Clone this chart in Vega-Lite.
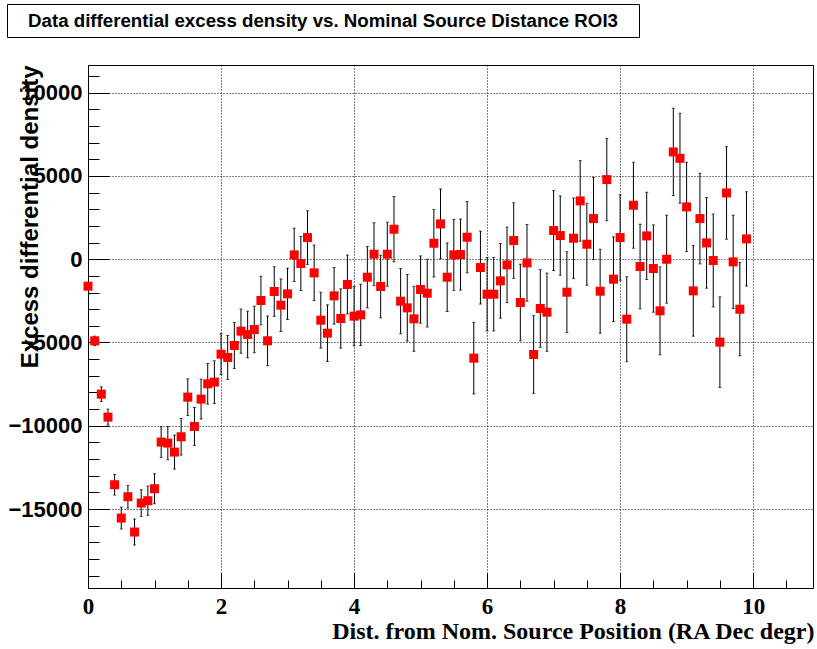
{
  "$schema": "https://vega.github.io/schema/vega-lite/v6.json",
  "background": "white",
  "padding": {"left": 6, "top": 3, "right": 2, "bottom": 2},
  "config": {"view": {"stroke": null}},
  "bounds": "flush",
  "spacing": 28,
  "datasets": {
    "ttl": [{"t": "Data differential excess density vs. Nominal Source Distance ROI3"}],
    "pts": [
      {"x": 0.0, "v": -1620, "e": 200},
      {"x": 0.1, "v": -4900, "e": 280},
      {"x": 0.2, "v": -8100, "e": 440},
      {"x": 0.3, "v": -9480, "e": 480},
      {"x": 0.4, "v": -13540, "e": 620},
      {"x": 0.5, "v": -15540, "e": 660},
      {"x": 0.6, "v": -14260, "e": 680},
      {"x": 0.7, "v": -16380, "e": 780},
      {"x": 0.8, "v": -14640, "e": 800},
      {"x": 0.9, "v": -14500, "e": 880},
      {"x": 1.0, "v": -13780, "e": 900},
      {"x": 1.1, "v": -10980, "e": 920},
      {"x": 1.2, "v": -11040, "e": 1000},
      {"x": 1.3, "v": -11580, "e": 1020},
      {"x": 1.4, "v": -10660, "e": 1100},
      {"x": 1.5, "v": -8280, "e": 1100},
      {"x": 1.6, "v": -10040, "e": 1140},
      {"x": 1.7, "v": -8400, "e": 1200},
      {"x": 1.8, "v": -7480, "e": 1220},
      {"x": 1.9, "v": -7380, "e": 1280},
      {"x": 2.0, "v": -5700, "e": 1230},
      {"x": 2.1, "v": -5900, "e": 1320},
      {"x": 2.2, "v": -5180, "e": 1380},
      {"x": 2.3, "v": -4320, "e": 1330},
      {"x": 2.4, "v": -4520, "e": 1400},
      {"x": 2.5, "v": -4220, "e": 1400},
      {"x": 2.6, "v": -2480, "e": 1460},
      {"x": 2.7, "v": -4900, "e": 1490},
      {"x": 2.8, "v": -1940, "e": 1490},
      {"x": 2.9, "v": -2760, "e": 1580},
      {"x": 3.0, "v": -2080, "e": 1540},
      {"x": 3.1, "v": 260, "e": 1600},
      {"x": 3.2, "v": -260, "e": 1620},
      {"x": 3.3, "v": 1300, "e": 1610},
      {"x": 3.4, "v": -820, "e": 1670},
      {"x": 3.5, "v": -3660, "e": 1680},
      {"x": 3.6, "v": -4440, "e": 1700},
      {"x": 3.7, "v": -2200, "e": 1700},
      {"x": 3.8, "v": -3560, "e": 1780},
      {"x": 3.9, "v": -1520, "e": 1770},
      {"x": 4.0, "v": -3420, "e": 1780},
      {"x": 4.1, "v": -3340, "e": 1840},
      {"x": 4.2, "v": -1080, "e": 1840},
      {"x": 4.3, "v": 300, "e": 1890},
      {"x": 4.4, "v": -1640, "e": 1880},
      {"x": 4.5, "v": 300, "e": 1920},
      {"x": 4.6, "v": 1800, "e": 1960},
      {"x": 4.7, "v": -2520, "e": 1960},
      {"x": 4.8, "v": -2920, "e": 2000},
      {"x": 4.9, "v": -3580, "e": 1950},
      {"x": 5.0, "v": -1820, "e": 2020},
      {"x": 5.1, "v": -2040, "e": 2030},
      {"x": 5.2, "v": 960, "e": 2030},
      {"x": 5.3, "v": 2120, "e": 2100},
      {"x": 5.4, "v": -1080, "e": 2060},
      {"x": 5.5, "v": 260, "e": 2130},
      {"x": 5.6, "v": 280, "e": 2130},
      {"x": 5.7, "v": 1320, "e": 2140},
      {"x": 5.8, "v": -5940, "e": 2150},
      {"x": 5.9, "v": -500, "e": 2190},
      {"x": 6.0, "v": -2100, "e": 2210},
      {"x": 6.1, "v": -2100, "e": 2210},
      {"x": 6.2, "v": -1300, "e": 2240},
      {"x": 6.3, "v": -340, "e": 2270},
      {"x": 6.4, "v": 1120, "e": 2270},
      {"x": 6.5, "v": -2600, "e": 2300},
      {"x": 6.6, "v": -220, "e": 2300},
      {"x": 6.7, "v": -5720, "e": 2330},
      {"x": 6.8, "v": -2960, "e": 2330},
      {"x": 6.9, "v": -3180, "e": 2350},
      {"x": 7.0, "v": 1720, "e": 2400},
      {"x": 7.1, "v": 1420, "e": 2380},
      {"x": 7.2, "v": -1980, "e": 2430},
      {"x": 7.3, "v": 1260, "e": 2410},
      {"x": 7.4, "v": 3500, "e": 2420},
      {"x": 7.5, "v": 900, "e": 2460},
      {"x": 7.6, "v": 2440, "e": 2470},
      {"x": 7.7, "v": -1920, "e": 2520},
      {"x": 7.8, "v": 4780, "e": 2470},
      {"x": 7.9, "v": -1200, "e": 2540},
      {"x": 8.0, "v": 1300, "e": 2570},
      {"x": 8.1, "v": -3600, "e": 2550},
      {"x": 8.2, "v": 3240, "e": 2580},
      {"x": 8.3, "v": -440, "e": 2540},
      {"x": 8.4, "v": 1400, "e": 2620},
      {"x": 8.5, "v": -560, "e": 2620},
      {"x": 8.6, "v": -3100, "e": 2640},
      {"x": 8.7, "v": 0, "e": 2640},
      {"x": 8.8, "v": 6440, "e": 2620},
      {"x": 8.9, "v": 6060, "e": 2700},
      {"x": 9.0, "v": 3140, "e": 2680},
      {"x": 9.1, "v": -1900, "e": 2720},
      {"x": 9.2, "v": 2440, "e": 2720},
      {"x": 9.3, "v": 980, "e": 2720},
      {"x": 9.4, "v": -80, "e": 2790},
      {"x": 9.5, "v": -4980, "e": 2720},
      {"x": 9.6, "v": 3980, "e": 2780},
      {"x": 9.7, "v": -160, "e": 2800},
      {"x": 9.8, "v": -3000, "e": 2800},
      {"x": 9.9, "v": 1220, "e": 2830}
    ]
  },
  "vconcat": [
    {
      "width": 632,
      "height": 33,
      "data": {"name": "ttl"},
      "view": {"stroke": "black", "strokeWidth": 1},
      "mark": {"type": "text", "font": "Liberation Sans", "fontWeight": "bold", "fontSize": 18.7, "color": "black"},
      "encoding": {"text": {"field": "t", "type": "nominal"}}
    },
    {
      "bounds": "flush",
      "spacing": 0,
      "hconcat": [
        {
          "width": 81,
          "height": 523,
          "data": {"name": "ttl"},
          "view": {"stroke": null},
          "mark": {"type": "point", "opacity": 0}
        },
        {
          "width": 725,
          "height": 523,
          "data": {"name": "pts"},
          "view": {"stroke": "black", "strokeWidth": 1},
          "resolve": {"axis": {"x": "independent", "y": "independent"}},
          "layer": [
            {
              "mark": {"type": "errorbar", "ticks": {"size": 3, "color": "black"}, "rule": {"color": "black", "strokeWidth": 1}},
              "encoding": {
                "x": {"field": "x", "type": "quantitative", "scale": {"domain": [0, 10.9], "nice": false, "zero": false}, "axis": null},
                "y": {"field": "v", "type": "quantitative", "scale": {"domain": [-19740, 11660], "nice": false, "zero": false}, "axis": null},
                "yError": {"field": "e"}
              }
            },
            {
              "mark": {"type": "square", "filled": true, "color": "#ff0000", "size": 81, "opacity": 1},
              "encoding": {
                "x": {"field": "x", "type": "quantitative", "scale": {"domain": [0, 10.9], "nice": false, "zero": false},
                  "axis": {"orient": "bottom", "values": [0, 2, 4, 6, 8, 10], "format": "d", "grid": true, "gridDash": [1, 2], "gridColor": "black", "gridOpacity": 1, "gridWidth": 1,
                    "domain": false, "ticks": true, "tickSize": -15, "tickColor": "black", "tickWidth": 1,
                    "labelFont": "Liberation Serif", "labelFontWeight": "bold", "labelFontSize": 23, "labelColor": "black", "labelPadding": 22, "labelFlush": false, "labelOverlap": false,
                    "title": "Dist. from Nom. Source Position (RA Dec degr)", "titleFont": "Liberation Serif", "titleFontWeight": "bold", "titleFontSize": 24, "titleColor": "black",
                    "titleAnchor": "end", "titleAlign": "right", "titleX": 726, "titleY": 50, "titleBaseline": "alphabetic"}},
                "y": {"field": "v", "type": "quantitative", "scale": {"domain": [-19740, 11660], "nice": false, "zero": false},
                  "axis": {"orient": "left", "values": [-15000, -10000, -5000, 0, 5000, 10000], "format": "d", "grid": true, "gridDash": [1, 2], "gridColor": "black", "gridOpacity": 1, "gridWidth": 1,
                    "domain": false, "ticks": true, "tickSize": -21, "tickColor": "black", "tickWidth": 1,
                    "labelFont": "Liberation Sans", "labelFontWeight": "bold", "labelFontSize": 22, "labelColor": "black", "labelPadding": 27, "labelFlush": false, "labelOverlap": false,
                    "title": "Excess differential density", "titleFont": "Liberation Sans", "titleFontWeight": "bold", "titleFontSize": 24, "titleColor": "black",
                    "titleAnchor": "end", "titleAlign": "right", "titleAngle": -90, "titleX": -58, "titleY": 0, "titleBaseline": "middle"}}
              }
            },
            {
              "mark": {"type": "square", "opacity": 0},
              "encoding": {
                "x": {"field": "x", "type": "quantitative", "scale": {"domain": [0, 10.9], "nice": false, "zero": false},
                  "axis": {"orient": "bottom", "values": [0.5, 1, 1.5, 2.5, 3, 3.5, 4.5, 5, 5.5, 6.5, 7, 7.5, 8.5, 9, 9.5, 10.5], "grid": false, "domain": false, "labels": false, "ticks": true, "tickSize": -8, "tickColor": "black", "tickWidth": 1, "title": null}},
                "y": {"field": "v", "type": "quantitative", "scale": {"domain": [-19740, 11660], "nice": false, "zero": false},
                  "axis": {"orient": "left", "values": [-19000, -18000, -17000, -16000, -14000, -13000, -12000, -11000, -9000, -8000, -7000, -6000, -4000, -3000, -2000, -1000, 1000, 2000, 3000, 4000, 6000, 7000, 8000, 9000, 11000], "grid": false, "domain": false, "labels": false, "ticks": true, "tickSize": -11, "tickColor": "black", "tickWidth": 1, "title": null}}
              }
            }
          ]
        }
      ]
    }
  ]
}
